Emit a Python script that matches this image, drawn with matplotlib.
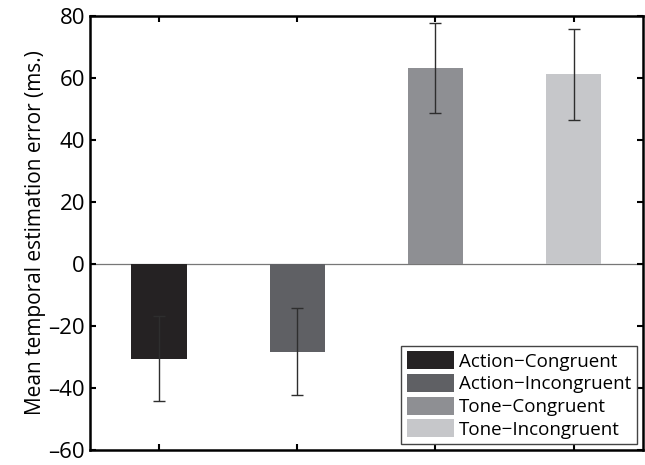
import numpy as np
import matplotlib
matplotlib.use('Agg')
from matplotlib import pyplot as plt

plt.rcParams['font.family'] = ['Open Sans', 'DejaVu Sans']

# conditions and values (ms)
labels = ['Action\u2212Congruent', 'Action\u2212Incongruent', 'Tone\u2212Congruent', 'Tone\u2212Incongruent']
means = [-30.5, -28.3, 63.3, 61.2]
errs = [13.8, 14.0, 14.5, 14.7]
colors = ['#252223', '#5f6064', '#8e8f93', '#c6c7ca']

fig = plt.figure(figsize=(6.45, 4.65), dpi=100)
ax = fig.add_axes([0.1395, 0.032, 0.857, 0.934])

x = np.arange(1, len(means) + 1)
for i in range(len(means)):
    ax.bar(x[i], means[i], width=0.4, color=colors[i], label=labels[i], zorder=2)
ax.errorbar(x, means, yerr=errs, fmt='none', ecolor='#2e2e2e', elinewidth=1,
            capsize=4, capthick=1, zorder=3)
ax.axhline(0, color='#777777', lw=0.9, zorder=1)

ax.set_xlim(0.5, 4.5)
ax.set_ylim(-60, 80)
ax.set_yticks(np.arange(-60, 81, 20))
ax.set_yticklabels([str(v).replace('-', '\u2013') for v in range(-60, 81, 20)])
ax.set_xticks(x)
ax.set_xticklabels([])
ax.tick_params(direction='in', top=True, right=True, length=4, width=1.5, labelsize=16)
for s in ax.spines.values():
    s.set_linewidth(1.8)
ax.set_ylabel('Mean temporal estimation error (ms.)', fontsize=15, labelpad=2)

leg = ax.legend(loc='lower right', fontsize=13.5, fancybox=False, edgecolor='#444444',
                handlelength=2.5, handleheight=1.1, labelspacing=0.18, borderpad=0.3,
                handletextpad=0.3, borderaxespad=0.3, framealpha=1)
leg.get_frame().set_linewidth(1.0)

fig.savefig('out.png', dpi=100)
